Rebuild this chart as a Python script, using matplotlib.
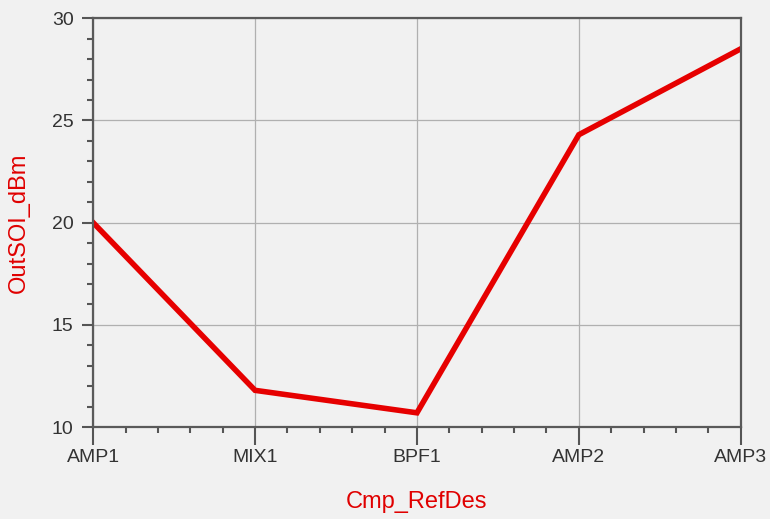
import matplotlib
matplotlib.use("Agg")
import matplotlib.pyplot as plt
from matplotlib.ticker import MultipleLocator

components = ["AMP1", "MIX1", "BPF1", "AMP2", "AMP3"]
out_soi_dbm = [20.0, 11.8, 10.7, 24.3, 28.5]

plt.rcParams['font.family'] = ['Liberation Sans', 'DejaVu Sans']

fig = plt.figure(figsize=(7.7, 5.19), dpi=100, facecolor="#f1f1f1")
ax = fig.add_axes([0.121, 0.177, 0.841, 0.788])
ax.set_facecolor("#f1f1f1")

x = list(range(len(components)))
ax.plot(x, out_soi_dbm, color="#e60000", linewidth=4.0, solid_joinstyle="miter")

ax.set_xlim(0, len(components) - 1)
ax.set_ylim(10, 30)
ax.set_xticks(x)
ax.set_xticklabels(components)
ax.xaxis.set_minor_locator(MultipleLocator(0.2))
ax.yaxis.set_major_locator(MultipleLocator(5))
ax.yaxis.set_minor_locator(MultipleLocator(1))

ax.grid(True, which="major", color="#b0b0b0", linewidth=0.9)
ax.set_axisbelow(True)

ax.tick_params(which="major", direction="out", length=8, width=1.5,
               color="#555555", labelsize=14, labelcolor="#333333")
ax.tick_params(axis="x", which="major", length=13, pad=3)
ax.tick_params(axis="y", which="major", pad=6)
ax.tick_params(which="minor", direction="out", length=4, width=1.5, color="#555555")

for side in ["left", "bottom", "top", "right"]:
    ax.spines[side].set_color("#5a5a5a")
    ax.spines[side].set_linewidth(1.6)

ax.set_xlabel("Cmp_RefDes", color="#e00000", fontsize=17, labelpad=18)
ax.set_ylabel("OutSOI_dBm", color="#e00000", fontsize=17, labelpad=16)

fig.savefig("out.png", dpi=100, facecolor=fig.get_facecolor())
